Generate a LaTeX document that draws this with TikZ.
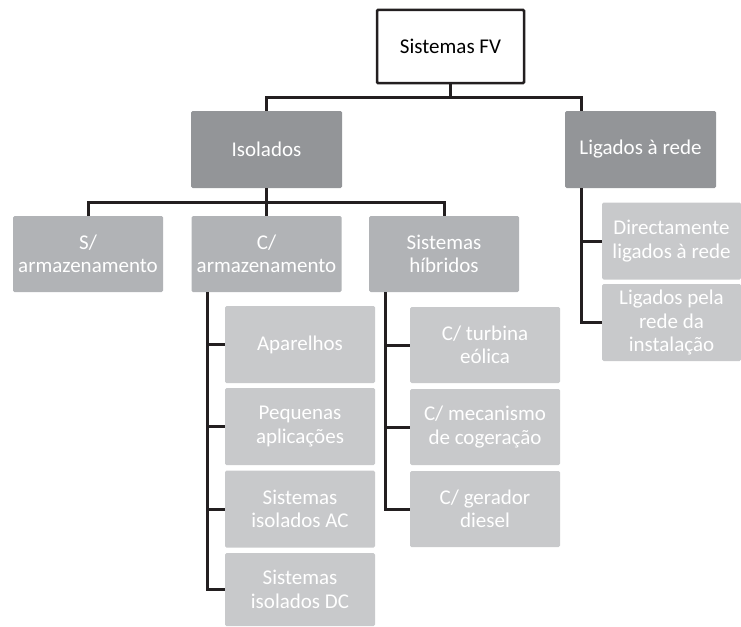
\documentclass[tikz,border=0pt]{standalone}
\usepackage{fontspec}
\setmainfont{Carlito}
\usepackage{xcolor}
\usepackage{tikz}
\usetikzlibrary{positioning}

\definecolor{darkgrey}{RGB}{147,149,152}
\definecolor{midgrey}{RGB}{177,179,182}
\definecolor{lightgrey}{RGB}{200,201,203}
\definecolor{linecol}{RGB}{35,31,32}

\tikzset{
    box/.style={rectangle, rounded corners=1.5pt, align=center, text=white,
        font=\fontsize{21}{23.5}\selectfont, inner sep=0pt},
    rootbox/.style={box, fill=white, draw=linecol, line width=2.5pt, text=black,
        rounded corners=1pt, minimum width=147pt, minimum height=73pt},
    topbox/.style={box, fill=darkgrey, minimum width=151pt, minimum height=77pt},
    midbox/.style={box, fill=midgrey, minimum width=150pt, minimum height=76pt},
    leafbox/.style={box, fill=lightgrey, minimum width=150pt, minimum height=77pt},
    conn/.style={draw=linecol, line width=3pt}
}

\begin{document}
\begin{tikzpicture}[x=1pt,y=-1pt]
    \useasboundingbox (0,0) rectangle (741,626);

    % Root
    \node[rootbox] (root) at (450.5,46.5) {Sistemas FV};

    % First level
    \node[topbox] (iso) at (266.5,149.5) {Isolados};
    \node[topbox] (lig) at (640.5,149.5) {Ligados à rede};

    % Second level
    \node[midbox] (sarm) at (88,254) {S/\\armazenamento};
    \node[midbox] (carm) at (266.5,254) {C/\\armazenamento};
    \node[midbox] (hib) at (444,254) {Sistemas\\híbridos};

    % Grid-connected children
    \node[leafbox, minimum width=139pt] (dir) at (671.5,241) {Directamente\\ligados à rede};
    \node[leafbox, minimum width=139pt] (pela) at (671.5,322.5) {Ligados pela\\rede da\\instalação};

    % Storage children
    \node[leafbox] (apar) at (300,344.5) {Aparelhos};
    \node[leafbox] (peq) at (300,426.5) {Pequenas\\aplicações};
    \node[leafbox] (sac) at (300,509) {Sistemas\\isolados AC};
    \node[leafbox, minimum height=73pt] (sdc) at (300,589.5) {Sistemas\\isolados DC};

    % Hybrid children
    \node[leafbox, minimum height=76pt] (turb) at (485,345) {C/ turbina\\eólica};
    \node[leafbox, minimum height=76pt] (mec) at (485,427) {C/ mecanismo\\de cogeração};
    \node[leafbox, minimum height=76pt] (ger) at (485,509) {C/ gerador\\diesel};

    % Bus lines
    \coordinate (bus1) at (0,97);
    \coordinate (bus2) at (0,202);
    \coordinate (ligtop) at (581,111);
    \coordinate (ligbot) at (581,188);
    \coordinate (carmbot) at (207,292);
    \coordinate (hibbot) at (385,292);

    % Connectors
    \draw[conn] (root.south) -- (root.south |- bus1);
    \draw[conn] (iso.north) -- (iso.north |- bus1) -| (ligtop);
    \draw[conn] (iso.south) -- (carm.north);
    \draw[conn] (sarm.north) -- (sarm.north |- bus2) -| (hib.north);

    \draw[conn] (ligbot) |- (pela.west);
    \draw[conn] (ligbot |- dir.west) -- (dir.west);

    \draw[conn] (carmbot) |- (sdc.west);
    \foreach \n in {apar,peq,sac}
        \draw[conn] (carmbot |- \n.west) -- (\n.west);

    \draw[conn] (hibbot) |- (ger.west);
    \foreach \n in {turb,mec}
        \draw[conn] (hibbot |- \n.west) -- (\n.west);
\end{tikzpicture}
\end{document}
